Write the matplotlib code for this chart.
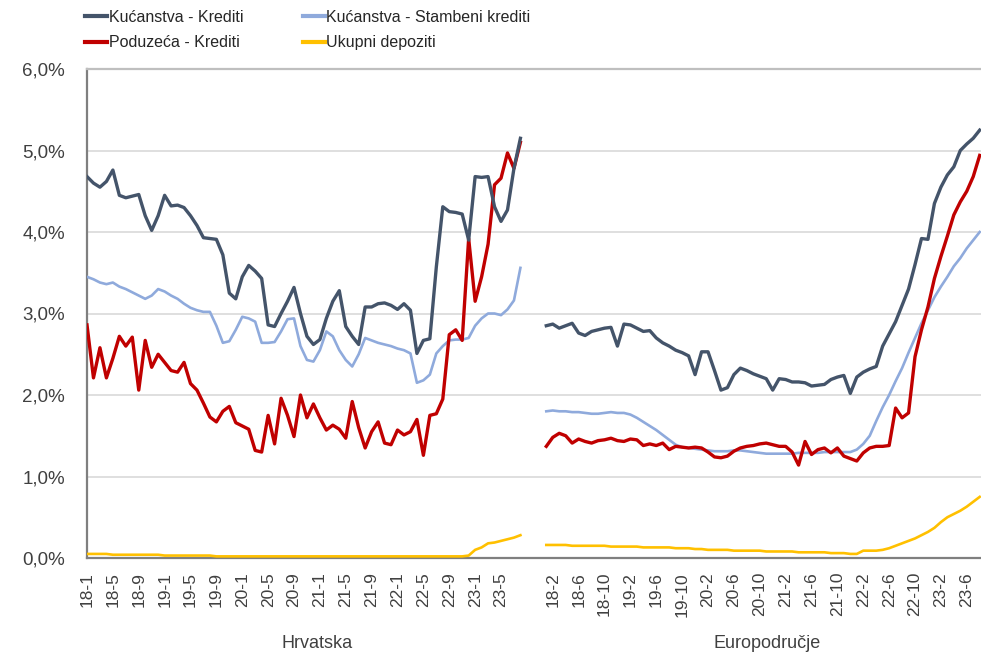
import matplotlib
matplotlib.use('Agg')
import matplotlib.pyplot as plt
import numpy as np
from matplotlib.ticker import FuncFormatter, MultipleLocator

# Hrvatska, 18-1 .. 23-8 (monthly, %)
hr_kucanstva = [4.68, 4.60, 4.55, 4.62, 4.76, 4.45, 4.42, 4.44, 4.46, 4.20,
                4.02, 4.20, 4.45, 4.32, 4.33, 4.30, 4.20, 4.08, 3.93, 3.92,
                3.91, 3.72, 3.25, 3.18, 3.45, 3.59, 3.52, 3.43, 2.86, 2.84,
                3.00, 3.15, 3.32, 3.00, 2.72, 2.62, 2.68, 2.94, 3.15, 3.28,
                2.84, 2.72, 2.62, 3.08, 3.08, 3.12, 3.13, 3.10, 3.05, 3.12,
                3.04, 2.51, 2.67, 2.69, 3.57, 4.31, 4.25, 4.24, 4.22, 3.90,
                4.68, 4.67, 4.68, 4.31, 4.13, 4.27, 4.78, 5.15]
hr_stambeni = [3.45, 3.42, 3.38, 3.36, 3.38, 3.33, 3.30, 3.26, 3.22, 3.18,
               3.22, 3.30, 3.27, 3.22, 3.18, 3.12, 3.07, 3.04, 3.02, 3.02,
               2.85, 2.64, 2.66, 2.80, 2.96, 2.94, 2.90, 2.64, 2.64, 2.65,
               2.78, 2.93, 2.94, 2.60, 2.43, 2.41, 2.55, 2.78, 2.72, 2.55,
               2.43, 2.35, 2.50, 2.70, 2.67, 2.64, 2.62, 2.60, 2.57, 2.55,
               2.51, 2.15, 2.18, 2.25, 2.51, 2.60, 2.67, 2.68, 2.68, 2.70,
               2.85, 2.94, 3.00, 3.00, 2.98, 3.05, 3.16, 3.56]
hr_poduzeca = [2.86, 2.21, 2.58, 2.21, 2.45, 2.72, 2.60, 2.71, 2.06, 2.67,
               2.34, 2.50, 2.40, 2.30, 2.28, 2.40, 2.14, 2.06, 1.90, 1.73,
               1.67, 1.80, 1.86, 1.66, 1.62, 1.58, 1.32, 1.30, 1.75, 1.40,
               1.96, 1.75, 1.49, 2.00, 1.72, 1.89, 1.72, 1.57, 1.63, 1.58,
               1.47, 1.92, 1.60, 1.35, 1.55, 1.67, 1.41, 1.39, 1.57, 1.51,
               1.55, 1.70, 1.26, 1.75, 1.77, 1.95, 2.74, 2.80, 2.67, 3.92,
               3.15, 3.45, 3.85, 4.58, 4.66, 4.97, 4.78, 5.10]
hr_depoziti = [0.05, 0.05, 0.05, 0.05, 0.04, 0.04, 0.04, 0.04, 0.04, 0.04,
               0.04, 0.04, 0.03, 0.03, 0.03, 0.03, 0.03, 0.03, 0.03, 0.03,
               0.02, 0.02, 0.02, 0.02, 0.02, 0.02, 0.02, 0.02, 0.02, 0.02,
               0.02, 0.02, 0.02, 0.02, 0.02, 0.02, 0.02, 0.02, 0.02, 0.02,
               0.02, 0.02, 0.02, 0.02, 0.02, 0.02, 0.02, 0.02, 0.02, 0.02,
               0.02, 0.02, 0.02, 0.02, 0.02, 0.02, 0.02, 0.02, 0.02, 0.03,
               0.10, 0.13, 0.18, 0.19, 0.21, 0.23, 0.25, 0.28]

# Europodručje, 18-1 .. 23-8 (monthly, %)
ea_kucanstva = [2.85, 2.87, 2.82, 2.85, 2.88, 2.76, 2.73, 2.78, 2.80, 2.82,
                2.83, 2.60, 2.87, 2.86, 2.82, 2.78, 2.79, 2.70, 2.64, 2.60,
                2.55, 2.52, 2.48, 2.25, 2.53, 2.53, 2.30, 2.06, 2.09, 2.25,
                2.33, 2.30, 2.26, 2.23, 2.20, 2.06, 2.20, 2.19, 2.16, 2.16,
                2.15, 2.11, 2.12, 2.13, 2.19, 2.22, 2.24, 2.02, 2.22, 2.28,
                2.32, 2.35, 2.60, 2.75, 2.90, 3.10, 3.30, 3.60, 3.92, 3.91,
                4.35, 4.55, 4.70, 4.80, 5.00, 5.08, 5.15, 5.25]
ea_stambeni = [1.80, 1.81, 1.80, 1.80, 1.79, 1.79, 1.78, 1.77, 1.77, 1.78,
               1.79, 1.78, 1.78, 1.76, 1.72, 1.67, 1.62, 1.57, 1.51, 1.45,
               1.39, 1.36, 1.35, 1.34, 1.33, 1.32, 1.31, 1.31, 1.31, 1.32,
               1.32, 1.31, 1.30, 1.29, 1.28, 1.28, 1.28, 1.28, 1.28, 1.29,
               1.29, 1.29, 1.29, 1.30, 1.30, 1.30, 1.30, 1.30, 1.33, 1.40,
               1.50, 1.68, 1.85, 2.00, 2.17, 2.33, 2.52, 2.70, 2.88, 3.04,
               3.20, 3.33, 3.45, 3.58, 3.68, 3.80, 3.90, 4.00]
ea_poduzeca = [1.37, 1.48, 1.53, 1.50, 1.41, 1.46, 1.43, 1.41, 1.44, 1.45,
               1.47, 1.44, 1.43, 1.46, 1.45, 1.38, 1.40, 1.38, 1.41, 1.33,
               1.37, 1.36, 1.35, 1.36, 1.35, 1.30, 1.24, 1.23, 1.25, 1.31,
               1.35, 1.37, 1.38, 1.40, 1.41, 1.39, 1.37, 1.37, 1.30, 1.14,
               1.43, 1.27, 1.33, 1.35, 1.29, 1.35, 1.25, 1.22, 1.19, 1.29,
               1.35, 1.37, 1.37, 1.38, 1.84, 1.72, 1.78, 2.47, 2.80, 3.08,
               3.43, 3.70, 3.95, 4.21, 4.37, 4.50, 4.68, 4.94]
ea_depoziti = [0.16, 0.16, 0.16, 0.16, 0.15, 0.15, 0.15, 0.15, 0.15, 0.15,
               0.14, 0.14, 0.14, 0.14, 0.14, 0.13, 0.13, 0.13, 0.13, 0.13,
               0.12, 0.12, 0.12, 0.11, 0.11, 0.10, 0.10, 0.10, 0.10, 0.09,
               0.09, 0.09, 0.09, 0.09, 0.08, 0.08, 0.08, 0.08, 0.08, 0.07,
               0.07, 0.07, 0.07, 0.07, 0.06, 0.06, 0.06, 0.05, 0.05, 0.09,
               0.09, 0.09, 0.10, 0.12, 0.15, 0.18, 0.21, 0.24, 0.28, 0.32,
               0.37, 0.44, 0.50, 0.54, 0.58, 0.63, 0.69, 0.75]

hr_ticklabels = ['18-1', '18-5', '18-9', '19-1', '19-5', '19-9', '20-1', '20-5', '20-9',
                 '21-1', '21-5', '21-9', '22-1', '22-5', '22-9', '23-1', '23-5']
ea_ticklabels = ['18-2', '18-6', '18-10', '19-2', '19-6', '19-10', '20-2', '20-6', '20-10',
                 '21-2', '21-6', '21-10', '22-2', '22-6', '22-10', '23-2', '23-6']

series = [('Kućanstva - Krediti', hr_kucanstva, ea_kucanstva, '#44546A', 2.4),
          ('Poduzeća - Krediti', hr_poduzeca, ea_poduzeca, '#C00000', 2.4),
          ('Kućanstva - Stambeni krediti', hr_stambeni, ea_stambeni, '#8FAADC', 1.9),
          ('Ukupni depoziti', hr_depoziti, ea_depoziti, '#FFC000', 1.9)]

n = len(hr_kucanstva)
gap = 3
x_hr = np.arange(n)
x_ea = np.arange(n) + n + gap

plt.rcParams['font.family'] = ['Liberation Sans', 'DejaVu Sans']
fig = plt.figure(figsize=(9.81, 6.57), dpi=100)
ax = fig.add_axes([87/981, 1-558/657, 1-87/981, (558-69)/657])

handles = []
for name, hr, ea, col, lw in series[::-1]:
    ax.plot(x_hr, hr, color=col, linewidth=lw, zorder=3, solid_joinstyle='round')
    ax.plot(x_ea, ea, color=col, linewidth=lw, zorder=3, solid_joinstyle='round')

for name, hr, ea, col, lw in series:
    h, = ax.plot([], [], color=col, linewidth=3.0)
    handles.append((h, name))

ax.set_xlim(0, x_ea[-1] + 0.2)
ax.set_ylim(0, 6)
ax.yaxis.set_major_locator(MultipleLocator(1))
ax.yaxis.set_major_formatter(FuncFormatter(lambda v, p: f'{v:.1f}%'.replace('.', ',')))

tick_pos = list(x_hr[::4][:len(hr_ticklabels)]) + list(x_ea[1::4][:len(ea_ticklabels)])
ax.set_xticks(tick_pos)
ax.set_xticklabels(hr_ticklabels + ea_ticklabels, rotation=90, fontsize=12.5, color='#404040')
ax.xaxis.set_minor_locator(MultipleLocator(12))
ax.tick_params(axis='x', which='both', length=0, pad=10)
ax.tick_params(axis='y', length=0, pad=16, labelsize=13.5, labelcolor='#404040')

ax.grid(axis='y', color='#d9d9d9', linewidth=1.2, zorder=0)
ax.grid(axis='x', which='minor', color='#d9d9d9', linewidth=1.2, zorder=0)
ax.grid(axis='x', which='major', visible=False)

for s in ['left', 'bottom', 'top']:
    ax.spines[s].set_color('#7f7f7f')
    ax.spines[s].set_linewidth(1.6)
ax.spines['top'].set_color('#bfbfbf')
ax.spines['right'].set_visible(False)

fig.text(317/981, 1-643/657, 'Hrvatska', ha='center', va='center', fontsize=13, color='#404040')
fig.text(767/981, 1-643/657, 'Europodručje', ha='center', va='center', fontsize=13, color='#404040')

fig.legend([h for h, _ in handles], [t for _, t in handles], ncol=2,
           loc='upper left', bbox_to_anchor=(77/981, 1-2/657), frameon=False,
           prop={'size': 11.5}, handlelength=1.4, handletextpad=0.1,
           columnspacing=3.7, labelspacing=0.65, borderpad=0, labelcolor='#262626')

fig.savefig('out.png', dpi=100)
